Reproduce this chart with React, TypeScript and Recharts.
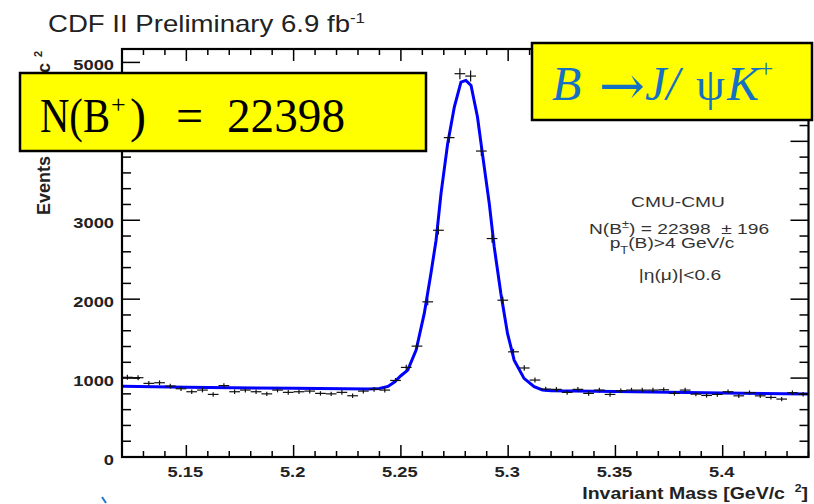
import React from 'react';
import { ComposedChart, XAxis, YAxis, Line, Scatter, ErrorBar } from 'recharts';

// Bin centres (GeV/c^2), bin width 0.005
const binCenters = [
  5.1225, 5.1275, 5.1325, 5.1375, 5.1425, 5.1475, 5.1525, 5.1575, 5.1625, 5.1675,
  5.1725, 5.1775, 5.1825, 5.1875, 5.1925, 5.1975, 5.2025, 5.2075, 5.2125, 5.2175,
  5.2225, 5.2275, 5.2325, 5.2375, 5.2425, 5.2475, 5.2525, 5.2575, 5.2625, 5.2675,
  5.2725, 5.2775, 5.2825, 5.2875, 5.2925, 5.2975, 5.3025, 5.3075, 5.3125, 5.3175,
  5.3225, 5.3275, 5.3325, 5.3375, 5.3425, 5.3475, 5.3525, 5.3575, 5.3625, 5.3675,
  5.3725, 5.3775, 5.3825, 5.3875, 5.3925, 5.3975, 5.4025, 5.4075, 5.4125, 5.4175,
  5.4225, 5.4275, 5.4325, 5.4375,
];

// Events per bin
const binCounts = [
  1010, 1005, 933, 941, 899, 865, 827, 848, 793, 905,
  827, 848, 827, 800, 848, 819, 827, 835, 806, 800,
  819, 776, 835, 857, 848, 970, 1135, 1405, 1966, 2873,
  4047, 4857, 4827, 3877, 2768, 1987, 1333, 1128, 975, 861,
  857, 819, 857, 806, 848, 793, 839, 848, 848, 848,
  852, 806, 848, 797, 780, 793, 827, 775, 815, 775,
  755, 734, 815, 795,
];

const binHalfWidth = 0.0025;

// Fit curve
const fitMass = [
  5.12, 5.15, 5.2, 5.235, 5.24, 5.244, 5.247, 5.25, 5.2532, 5.2571,
  5.2609, 5.264, 5.2664, 5.2687, 5.2718, 5.2749, 5.278, 5.2803, 5.2827, 5.2857,
  5.288, 5.2912, 5.2935, 5.2966, 5.2997, 5.3028, 5.3074, 5.3121, 5.316, 5.32,
  5.35, 5.4, 5.44,
];
const fitValue = [
  895, 885, 870, 862, 868, 895, 950, 1030, 1101, 1354,
  1819, 2325, 2747, 3338, 3971, 4434, 4751, 4772, 4709, 4308,
  3844, 3211, 2662, 2072, 1566, 1228, 996, 890, 850, 840,
  830, 812, 797,
];

const xTicks = [
  5.12, 5.13, 5.14, 5.15, 5.16, 5.17, 5.18, 5.19, 5.2, 5.21, 5.22, 5.23, 5.24, 5.25,
  5.26, 5.27, 5.28, 5.29, 5.3, 5.31, 5.32, 5.33, 5.34, 5.35, 5.36, 5.37, 5.38, 5.39,
  5.4, 5.41, 5.42, 5.43, 5.44,
];
const xMajorLabels = ['5.15', '5.2', '5.25', '5.3', '5.35', '5.4'];
const yTicks = [
  0, 200, 400, 600, 800, 1000, 1200, 1400, 1600, 1800, 2000, 2200, 2400, 2600, 2800,
  3000, 3200, 3400, 3600, 3800, 4000, 4200, 4400, 4600, 4800, 5000,
];
const yMajorLabels = ['0', '1000', '2000', '3000', '4000', '5000'];

const points = binCenters.map((x, i) => ({
  x,
  y: binCounts[i],
  ex: binHalfWidth,
  ey: Math.sqrt(binCounts[i]),
}));
const fitData = fitMass.map((x, i) => ({ x, y: fitValue[i] }));

const W = 814;
const H = 504;
const PL = 122;
const PR = 808.5;
const PT = 49;
const PB = 457;
const SANS = '"Liberation Sans", Arial, Helvetica, sans-serif';
const SERIF = '"Liberation Serif", "Times New Roman", serif';
const STRETCH = 1.22;

function XTick(props: any) {
  const { x, payload } = props;
  const v = payload.value as number;
  const label = xMajorLabels.find((m) => Math.abs(parseFloat(m) - v) < 1e-6);
  const len = label ? 12 : 6;
  return (
    <g>
      <line x1={x} x2={x} y1={PB} y2={PB - len} stroke="#000" strokeWidth={1.5} />
      <line x1={x} x2={x} y1={PT} y2={PT + len} stroke="#000" strokeWidth={1.5} />
      {label && (
        <text
          transform={`translate(${x - 1},${PB + 20}) scale(${STRETCH},1)`}
          textAnchor="middle"
          fontFamily={SANS}
          fontWeight="bold"
          fontSize={15}
          fill="#222"
        >
          {label}
        </text>
      )}
    </g>
  );
}

function YTick(props: any) {
  const { y, payload } = props;
  const v = payload.value as number;
  const label = yMajorLabels.find((m) => parseFloat(m) === v);
  const len = label ? 18 : 9;
  return (
    <g>
      <line x1={PL} x2={PL + len} y1={y} y2={y} stroke="#000" strokeWidth={1.5} />
      <line x1={PR - len} x2={PR} y1={y} y2={y} stroke="#000" strokeWidth={1.5} />
      {label && (
        <text
          transform={`translate(${PL - 8},${y + 8}) scale(${STRETCH},1)`}
          textAnchor="end"
          fontFamily={SANS}
          fontWeight="bold"
          fontSize={15}
          fill="#222"
        >
          {label}
        </text>
      )}
    </g>
  );
}

export default function App() {
  return (
    <div style={{ position: 'absolute', left: 0, top: 0, width: W, height: H, background: '#fff' }}>
      <ComposedChart
        width={W}
        height={H}
        margin={{ top: PT, right: W - PR, bottom: 0, left: 0 }}
      >
        <XAxis
          type="number"
          dataKey="x"
          domain={[5.12, 5.44]}
          allowDataOverflow
          ticks={xTicks}
          interval={0}
          height={H - PB}
          tick={<XTick />}
          tickLine={false}
          axisLine={false}
        />
        <YAxis
          type="number"
          domain={[0, 5170]}
          allowDataOverflow
          ticks={yTicks}
          interval={0}
          width={PL}
          tick={<YTick />}
          tickLine={false}
          axisLine={false}
        />
        <Line
          data={fitData}
          dataKey="y"
          type="linear"
          stroke="#0000ff"
          strokeWidth={3}
          dot={false}
          isAnimationActive={false}
        />
        <Scatter data={points} dataKey="y" shape={() => <g />} isAnimationActive={false}>
          <ErrorBar dataKey="ex" direction="x" width={0} stroke="#111" strokeWidth={1.2} />
          <ErrorBar dataKey="ey" direction="y" width={0} stroke="#111" strokeWidth={1.2} />
        </Scatter>
      </ComposedChart>

      <svg
        width={W}
        height={H}
        style={{ position: 'absolute', left: 0, top: 0, pointerEvents: 'none' }}
      >
        {/* frame */}
        <rect x={PL} y={PT} width={PR - PL} height={PB - PT} fill="none" stroke="#000" strokeWidth={2.2} />

        {/* title */}
        <text
          transform={`translate(48,32) scale(1.2,1)`}
          fontFamily={SANS}
          fontSize={23}
          fill="#222"
        >
          CDF II Preliminary 6.9 fb
          <tspan dy={-9} fontSize={14}>-1</tspan>
        </text>

        {/* y axis title */}
        <text
          transform="rotate(-90)"
          x={-215}
          y={50}
          fontFamily={SANS}
          fontWeight="bold"
          fontSize={18}
          fill="#222"
        >
          Events / ( 5 MeV/c
          <tspan dy={-8} dx={6} fontSize={11}>2</tspan>
        </text>

        {/* x axis title */}
        <text
          transform={`translate(808,499) scale(${STRETCH},1)`}
          textAnchor="end"
          fontFamily={SANS}
          fontWeight="bold"
          fontSize={16}
          fill="#222"
        >
          Invariant Mass [GeV/c
          <tspan dx={8} dy={-7} fontSize={10}>2</tspan>
          <tspan dy={7}>]</tspan>
        </text>

        {/* info text */}
        <g fontFamily={SANS} fontSize={15} fill="#333" textAnchor="middle">
          <text transform={`translate(678,207) scale(1.28,1)`}>CMU-CMU</text>
          <text transform={`translate(679,234) scale(1.28,1)`} xmlSpace="preserve">
            N(B<tspan dy={-6} fontSize={10}>±</tspan>
            <tspan dy={6}>) = 22398  ± 196</tspan>
          </text>
          <text transform={`translate(672,248) scale(1.28,1)`}>
            p<tspan dy={6} fontSize={10}>T</tspan>
            <tspan dy={-6}>(B)&gt;4 GeV/c</tspan>
          </text>
          <text transform={`translate(680,280) scale(1.28,1)`}>|η(μ)|&lt;0.6</text>
        </g>

        {/* left yellow box */}
        <rect x={20} y={73} width={406} height={78} fill="#ffff00" stroke="#000" strokeWidth={2.5} />
        <g fontFamily={SERIF} fill="#000">
          <text x={40} y={132} fontSize={48} textLength={70} lengthAdjust="spacingAndGlyphs">N(B</text>
          <text x={111} y={113} fontSize={26}>+</text>
          <text x={130} y={132} fontSize={48}>)</text>
          <text x={176} y={132} fontSize={48}>=</text>
          <text x={227} y={132} fontSize={48} textLength={118} lengthAdjust="spacingAndGlyphs">22398</text>
        </g>

        {/* right yellow box */}
        <rect x={532} y={43} width={280} height={77} fill="#ffff00" stroke="#000" strokeWidth={2.5} />
        <g fill="#1570c4">
          <text x={552} y={100} fontSize={48} fontStyle="italic" fontFamily={SERIF}>B</text>
          <text
            x={599}
            y={104}
            fontSize={54}
            fontFamily={'"DejaVu Serif", serif'}
            textLength={46}
            lengthAdjust="spacingAndGlyphs"
          >
            →
          </text>
          <text x={645} y={100} fontSize={48} fontStyle="italic" fontFamily={SERIF}>J/</text>
          <text x={696} y={100} fontSize={46} fontFamily={SERIF}>ψ</text>
          <text x={727} y={100} fontSize={48} fontStyle="italic" fontFamily={SERIF}>K</text>
          <text x={757} y={77} fontSize={26} fontStyle="italic" fontFamily={SERIF}>+</text>
        </g>

        {/* small blue mark at the bottom */}
        <line x1={102} y1={497} x2={106} y2={503} stroke="#1f77c8" strokeWidth={2} />
      </svg>
    </div>
  );
}
